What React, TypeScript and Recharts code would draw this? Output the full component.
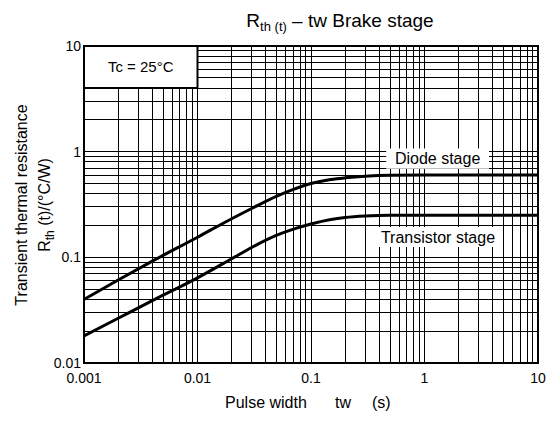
import { LineChart, Line, XAxis, YAxis, CartesianGrid, ReferenceArea } from 'recharts'

const gridX = [
  0.001, 0.002, 0.003, 0.004, 0.005, 0.006, 0.007, 0.008, 0.009,
  0.01, 0.02, 0.03, 0.04, 0.05, 0.06, 0.07, 0.08, 0.09,
  0.1, 0.2, 0.3, 0.4, 0.5, 0.6, 0.7, 0.8, 0.9,
  1, 2, 3, 4, 5, 6, 7, 8, 9, 10,
]
const gridY = [
  0.01, 0.02, 0.03, 0.04, 0.05, 0.06, 0.07, 0.08, 0.09,
  0.1, 0.2, 0.3, 0.4, 0.5, 0.6, 0.7, 0.8, 0.9,
  1, 2, 3, 4, 5, 6, 7, 8, 9, 10,
]
const decadesX = [0.001, 0.01, 0.1, 1, 10]
const decadesY = [0.01, 0.1, 1, 10]

// pulse width tw (s)
const pulseWidth = [0.001, 0.002, 0.004, 0.01, 0.02, 0.03, 0.05, 0.07, 0.1, 0.15, 0.2, 0.3, 0.5, 1, 10]
// Rth(t) in °C/W
const diodeStage = [0.04, 0.061, 0.092, 0.155, 0.232, 0.29, 0.38, 0.44, 0.5, 0.545, 0.565, 0.585, 0.597, 0.6, 0.6]
const transistorStage = [0.018, 0.0265, 0.039, 0.064, 0.097, 0.124, 0.162, 0.185, 0.207, 0.228, 0.238, 0.246, 0.25, 0.25, 0.25]

const data = pulseWidth.map((t, i) => ({ t, diode: diodeStage[i], transistor: transistorStage[i] }))

const font = '"Liberation Sans", Arial, sans-serif'
const tick = { fontSize: 14, fill: '#000', fontFamily: font }

export default function App() {
  return (
    <div style={{ position: 'absolute', left: 0, top: 0, width: 553, height: 439, background: '#fff', fontFamily: font }}>
      <style>{'.recharts-cartesian-grid line { shape-rendering: crispEdges; }'}</style>
      <LineChart width={553} height={439} data={data} margin={{ top: 46, right: 15, bottom: 46, left: 0 }}>
        <CartesianGrid stroke="#000" strokeWidth={1} />
        <XAxis
          dataKey="t"
          type="number"
          scale="log"
          domain={[0.001, 10]}
          ticks={gridX}
          interval={0}
          allowDataOverflow
          height={30}
          tickLine={false}
          axisLine={false}
          tickSize={8}
          tickMargin={2}
          tick={tick}
          tickFormatter={(v) => (decadesX.includes(v) ? String(v) : '')}
        />
        <YAxis
          type="number"
          scale="log"
          domain={[0.01, 10]}
          ticks={gridY}
          interval={0}
          allowDataOverflow
          width={84}
          tickLine={false}
          axisLine={false}
          tickSize={1}
          tickMargin={2}
          tick={tick}
          tickFormatter={(v) => (decadesY.includes(v) ? String(v) : '')}
        />
        <ReferenceArea
          x1={0.001} x2={0.01} y1={4} y2={10}
          fill="#fff" fillOpacity={1} stroke="#000" strokeWidth={2}
          label={{ value: 'Tc = 25°C', position: 'center', fontSize: 15, fill: '#000', fontFamily: font }}
        />
        <ReferenceArea
          x1={0.46} x2={3.7} y1={0.69} y2={1.07}
          fill="#fff" fillOpacity={1} stroke="none"
          label={{ value: 'Diode stage', position: 'center', fontSize: 16, fill: '#000', fontFamily: font }}
        />
        <ReferenceArea
          x1={0.36} x2={4.8} y1={0.125} y2={0.194}
          fill="#fff" fillOpacity={1} stroke="none"
          label={{ value: 'Transistor stage', position: 'center', fontSize: 16, fill: '#000', fontFamily: font }}
        />
        <Line type="monotone" dataKey="diode" stroke="#000" strokeWidth={3} dot={false} isAnimationActive={false} />
        <Line type="monotone" dataKey="transistor" stroke="#000" strokeWidth={3} dot={false} isAnimationActive={false} />
        <ReferenceArea
          x1={0.001} x2={10} y1={0.01} y2={10}
          fill="none" stroke="#000" strokeWidth={2}
        />
      </LineChart>
      <svg width={553} height={439} style={{ position: 'absolute', left: 0, top: 0, pointerEvents: 'none' }} fontFamily={font}>
        <text x={340} y={27} textAnchor="middle" fontSize={19} fill="#000">
          R<tspan fontSize={13} dy={4}>th (t)</tspan>
          <tspan dy={-4}> – tw Brake stage</tspan>
        </text>
        <text x={0} y={0} transform="translate(27,205) rotate(-90)" textAnchor="middle" fontSize={16} fill="#000">
          Transient thermal resistance
        </text>
        <text x={0} y={0} transform="translate(50,205) rotate(-90)" textAnchor="middle" fontSize={16} fill="#000">
          R<tspan fontSize={12} dy={4}>th</tspan>
          <tspan dy={-4}> (t)/(°C/W)</tspan>
        </text>
        <text x={225} y={408} fontSize={16} fill="#000">Pulse width</text>
        <text x={335} y={408} fontSize={16} fill="#000">tw</text>
        <text x={372} y={408} fontSize={16} fill="#000">(s)</text>
      </svg>
    </div>
  )
}
